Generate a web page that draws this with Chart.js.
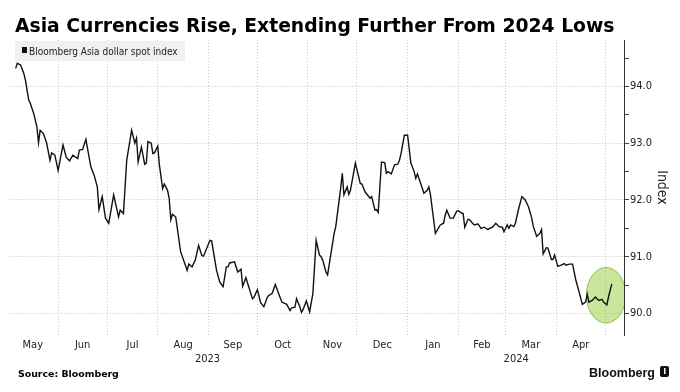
<!DOCTYPE html>
<html>
<head>
<meta charset="utf-8">
<script src="https://cdn.jsdelivr.net/npm/chart.js@4"></script>
<style>
html,body{margin:0;padding:0;background:#fff}
#wrap{width:680px;height:392px;position:relative}
</style>
</head>
<body>
<div id="wrap"><canvas id="ch"></canvas></div>
<script>
// ── DATA ──
const TITLE='Asia Currencies Rise, Extending Further From 2024 Lows';
const SOURCE='Source: Bloomberg';
const SERIES='Bloomberg Asia dollar spot index';
const Y_TITLE='Index';

// days since 1 May 2023
const days=[5,6,8,10,11,13,14,16,18,19,20,22,24,26,27,29,31,34,36,38,40,43,44,46,48,51,53,55,56,58,
  60,62,65,68,69,71,73,76,78,79,80,82,84,85,86,88,89,90,92,93,95,96,98,99,100,101,103,106,110,111,
  113,115,117,119,120,124,125,128,130,132,134,135,136,139,140,141,143,144,146,149,150,151,153,155,157,159,160,162,164,166,
  168,171,173,174,176,177,179,180,181,183,185,187,189,191,192,193,195,196,200,201,204,205,206,208,209,210,213,216,217,219,
  222,223,225,226,227,229,231,232,233,235,237,239,240,241,243,245,247,249,250,251,253,255,257,258,259,262,265,267,268,269,
  271,273,275,276,278,279,280,282,283,285,286,288,290,292,294,297,299,301,303,304,306,307,308,310,311,313,315,317,319,321,
  322,324,326,327,328,330,331,333,334,335,337,339,341,342,344,346,348,350,352,354,355,356,358,360,362,364,365,367,368,370];
const values=[94.32,94.41,94.38,94.23,94.11,93.76,93.70,93.53,93.29,93.01,93.23,93.17,93.00,92.70,92.83,92.79,92.52,92.97,92.75,92.69,
  92.79,92.73,92.88,92.89,93.07,92.59,92.44,92.23,91.83,92.06,91.68,91.59,92.09,91.70,91.82,91.76,92.70,93.23,93.00,93.09,
  92.67,92.93,92.63,92.65,93.03,93.00,92.82,92.83,92.95,92.62,92.20,92.28,92.17,92.03,91.65,91.75,91.70,91.09,90.76,90.87,
  90.82,90.94,91.20,91.02,91.01,91.29,91.28,90.76,90.55,90.47,90.82,90.82,90.89,90.91,90.82,90.73,90.78,90.48,90.63,90.35,
  90.26,90.29,90.42,90.19,90.12,90.28,90.32,90.35,90.51,90.35,90.20,90.16,90.05,90.10,90.11,90.26,90.12,90.02,90.07,90.22,
  90.03,90.35,91.29,91.03,91.00,90.94,90.73,90.68,91.41,91.53,92.20,92.47,92.09,92.23,92.10,92.17,92.65,92.29,92.28,92.14,
  92.03,92.06,91.82,91.83,91.78,92.67,92.66,92.47,92.50,92.46,92.62,92.63,92.70,92.82,93.14,93.14,92.65,92.50,92.38,92.46,
  92.29,92.12,92.17,92.23,92.09,91.41,91.56,91.59,91.73,91.82,91.68,91.68,91.80,91.81,91.77,91.76,91.52,91.66,91.65,91.58,
  91.56,91.58,91.50,91.52,91.48,91.52,91.59,91.53,91.52,91.44,91.56,91.50,91.56,91.53,91.59,91.85,92.06,92.00,91.88,91.68,
  91.53,91.36,91.41,91.48,91.05,91.16,91.15,90.95,90.95,91.03,90.83,90.85,90.88,90.85,90.87,90.87,90.59,90.38,90.16,90.20,
  90.34,90.20,90.23,90.29,90.23,90.25,90.20,90.15,90.29,90.52];

const monthNames=['May','Jun','Jul','Aug','Sep','Oct','Nov','Dec','Jan','Feb','Mar','Apr'];
const monthStarts=[0,31,61,92,123,153,184,214,245,276,305,336,366];
const yearNames=['2023','2024'];
const yearSpans=[[0,245],[245,378]];
const yMajor=[90,91,92,93,94];
const X_MAX=377.5, Y_MIN=89.62, Y_MAX=94.82;
const highlight={x:366.5,y:90.32,rx:12,ry:0.49};

// ── helpers ──
const COND='"DejaVu Sans Condensed","DejaVu Sans",sans-serif';
const labelAt={};
const xTicks=[];
monthStarts.forEach(v=>{ if(v>0) xTicks.push(v); });
monthNames.forEach((m,i)=>{ const v=(monthStarts[i]+monthStarts[i+1])/2; xTicks.push(v); labelAt[v]=m; });
yearNames.forEach((y,i)=>{ const v=(yearSpans[i][0]+yearSpans[i][1])/2; xTicks.push(v); labelAt[v]=['',y]; });
xTicks.sort((a,b)=>a-b);
const isGrid=v=>monthStarts.indexOf(v)>0;
const yTicks=[];
yMajor.forEach(v=>{ yTicks.push(v); yTicks.push(v+0.5); });

const pts=days.map((d,i)=>({x:d,y:values[i]}));

const decor={
  id:'decor',
  beforeDatasetsDraw(chart){
    const {ctx,chartArea:a,scales:{x,y}}=chart;
    // highlight ellipse
    const cx=x.getPixelForValue(highlight.x), cy=y.getPixelForValue(highlight.y);
    const rx=x.getPixelForValue(highlight.x+highlight.rx)-cx;
    const ry=cy-y.getPixelForValue(highlight.y+highlight.ry);
    ctx.save();
    ctx.beginPath(); ctx.rect(a.left,a.top,a.right-a.left,a.bottom-a.top); ctx.clip();
    ctx.beginPath(); ctx.ellipse(cx,cy,rx,ry,0,0,Math.PI*2);
    ctx.fillStyle='rgba(150,205,60,0.5)'; ctx.fill();
    ctx.lineWidth=1; ctx.strokeStyle='#8fc444'; ctx.stroke();
    ctx.restore();
    // legend box
    ctx.save();
    ctx.fillStyle='#f0f0f0'; ctx.fillRect(15,41,170,20);
    ctx.fillStyle='#111'; ctx.fillRect(22,47,5,6);
    ctx.font='10px '+COND; ctx.fillStyle='#222'; ctx.textBaseline='alphabetic';
    ctx.fillText(chart.data.datasets[0].label,29,55);
    ctx.restore();
  },
  afterDraw(chart){
    const {ctx}=chart;
    ctx.save();
    ctx.fillStyle='#000'; ctx.textBaseline='alphabetic';
    ctx.font='bold 18.75px "DejaVu Sans",sans-serif';
    ctx.fillText(TITLE,15,32);
    ctx.font='bold 9.4px "DejaVu Sans",sans-serif';
    ctx.fillText(SOURCE,18,377);
    ctx.font='bold 12.5px "Liberation Sans",Arial,sans-serif';
    ctx.textAlign='right';
    ctx.fillStyle='#111';
    ctx.fillText('Bloomberg',655,377);
    // logo mark
    ctx.beginPath(); ctx.roundRect(660,366,9,11,2); ctx.fill();
    ctx.fillStyle='#fff'; ctx.fillRect(664,368,1.5,6);
    ctx.restore();
  }
};

new Chart(document.getElementById('ch'),{
  type:'line',
  data:{ datasets:[{ label:SERIES, data:pts, borderColor:'#111', borderWidth:1.4,
    pointRadius:0, tension:0, fill:false }] },
  options:{
    responsive:true, maintainAspectRatio:false, animation:false,
    layout:{ padding:{ left:7.5, top:40, right:0, bottom:0 } },
    plugins:{ legend:{display:false}, tooltip:{enabled:false} },
    scales:{
      x:{ type:'linear', min:0, max:X_MAX,
        afterBuildTicks:s=>{ s.ticks=xTicks.map(v=>({value:v})); },
        afterFit:s=>{ s.height=57; },
        grid:{ drawTicks:false, lineWidth:1,
          color:c=>isGrid(c.tick&&c.tick.value)?'#c4c4c4':'rgba(0,0,0,0)' },
        border:{ display:false, dash:[1,2] },
        ticks:{ autoSkip:false, maxRotation:0, padding:3, color:'#222',
          font:{ family:COND, size:11, lineHeight:14/11 },
          callback:v=>labelAt[v]!==undefined?labelAt[v]:'' }
      },
      y:{ position:'right', min:Y_MIN, max:Y_MAX,
        afterBuildTicks:s=>{ s.ticks=yTicks.map(v=>({value:v})); },
        afterFit:s=>{ s.width=56; },
        grid:{ tickLength:5, tickColor:'#444', lineWidth:1,
          color:c=>(c.tick&&Number.isInteger(c.tick.value))?'#c4c4c4':'rgba(0,0,0,0)' },
        border:{ display:true, color:'#333', width:1, dash:[1,2] },
        ticks:{ padding:1, color:'#222', font:{ family:COND, size:11 },
          callback:v=>Number.isInteger(v)?v.toFixed(1):'' },
        title:{ display:true, text:Y_TITLE, color:'#222', padding:{top:9.6,bottom:0},
          font:{ family:COND, size:14 } }
      }
    }
  },
  plugins:[decor]
});
</script>
</body>
</html>
